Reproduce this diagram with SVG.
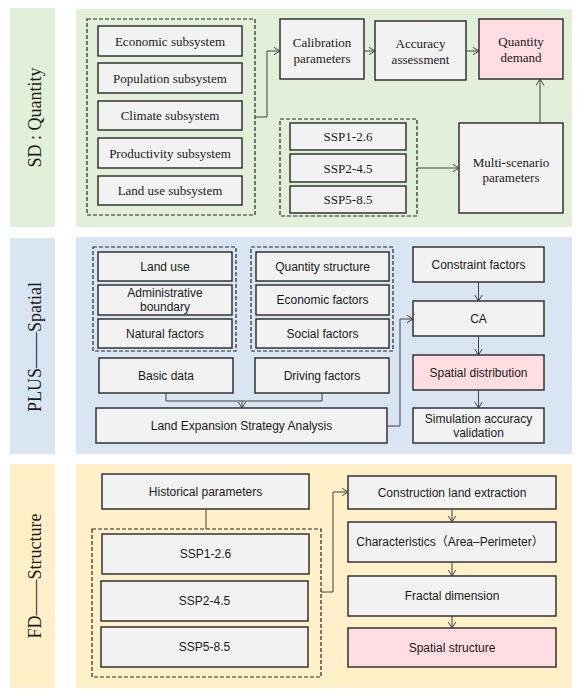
<svg xmlns="http://www.w3.org/2000/svg" width="582" height="694" viewBox="0 0 582 694">
<defs>
<marker id="arr" markerUnits="userSpaceOnUse" markerWidth="8" markerHeight="10" refX="6.5" refY="4" orient="auto">
<path d="M0,0 L6.5,4 L0,8" fill="none" stroke="#404040" stroke-width="1"/>
</marker>
<style>
.box{fill:#f2f2f2;stroke:#262626;stroke-width:1.4}
.pink{fill:#ffdde2;stroke:#262626;stroke-width:1.4}
.dash{fill:none;stroke:#262626;stroke-width:1.2;stroke-dasharray:4 2}
.serif{font-family:"Liberation Serif","Times New Roman",serif;font-size:13px;fill:#1a1a1a;text-anchor:middle}
.sans{font-family:"Liberation Sans",Arial,"Noto Sans CJK SC",sans-serif;font-size:12px;fill:#1a1a1a;text-anchor:middle}
.lab{font-family:"Liberation Serif","Times New Roman",serif;font-size:18px;fill:#1a1a1a;text-anchor:middle}
.con{fill:none;stroke:#404040;stroke-width:1}
</style>
</defs>
<rect width="582" height="694" fill="#ffffff"/>

<!-- Section panels -->
<g id="sec-sd">
<rect x="10" y="8" width="45" height="219" fill="#e2f0d9"/>
<rect x="76" y="9" width="496" height="218" fill="#e2f0d9"/>
<text class="lab" transform="translate(41,117.5) rotate(-90)">SD : Quantity</text>
</g>
<g id="sec-plus">
<rect x="10" y="238" width="45" height="216" fill="#dae5f4"/>
<rect x="76" y="237" width="496" height="217" fill="#dae5f4"/>
<text class="lab" transform="translate(41,347) rotate(-90)">PLUS——Spatial</text>
</g>
<g id="sec-fd">
<rect x="10" y="464" width="45" height="224" fill="#fff0c9"/>
<rect x="76" y="464" width="496" height="224" fill="#fff0c9"/>
<text class="lab" transform="translate(41,576) rotate(-90)">FD——Structure</text>
</g>

<!-- Section 1 -->
<g id="grp-subsystems"><rect class="dash" x="87" y="19" width="168" height="196"/></g>
<g id="n-economic"><rect class="box" x="98" y="26" width="144" height="30"/><text class="serif" x="170" y="45.5">Economic subsystem</text></g>
<g id="n-population"><rect class="box" x="98" y="63" width="144" height="30"/><text class="serif" x="170" y="82.5">Population subsystem</text></g>
<g id="n-climate"><rect class="box" x="98" y="101" width="144" height="29"/><text class="serif" x="170" y="120">Climate subsystem</text></g>
<g id="n-productivity"><rect class="box" x="98" y="138" width="144" height="30"/><text class="serif" x="170" y="157.5">Productivity subsystem</text></g>
<g id="n-landuse-sub"><rect class="box" x="98" y="176" width="144" height="29"/><text class="serif" x="170" y="195">Land use subsystem</text></g>
<g id="n-calibration"><rect class="box" x="280" y="19" width="84" height="60"/><text class="serif" x="322" y="46.5">Calibration</text><text class="serif" x="322" y="62.5">parameters</text></g>
<g id="n-accuracy"><rect class="box" x="375" y="21" width="91" height="59"/><text class="serif" x="420.5" y="47.5">Accuracy</text><text class="serif" x="420.5" y="63.5">assessment</text></g>
<g id="n-quantity"><rect class="pink" x="479" y="19" width="84" height="60"/><text class="serif" x="521" y="45.5">Quantity</text><text class="serif" x="521" y="61.5">demand</text></g>
<g id="grp-ssp1"><rect class="dash" x="280" y="119" width="137" height="97"/></g>
<g id="n-ssp126a"><rect class="box" x="290" y="123" width="116" height="27"/><text class="serif" x="348" y="141">SSP1-2.6</text></g>
<g id="n-ssp245a"><rect class="box" x="290" y="154" width="116" height="28"/><text class="serif" x="348" y="172.5">SSP2-4.5</text></g>
<g id="n-ssp585a"><rect class="box" x="290" y="186" width="116" height="27"/><text class="serif" x="348" y="204">SSP5-8.5</text></g>
<g id="n-multi"><rect class="box" x="459" y="123" width="104" height="90"/><text class="serif" x="511" y="166.5">Multi-scenario</text><text class="serif" x="511" y="181.5">parameters</text></g>

<!-- Section 2 -->
<g id="grp-basic"><rect class="dash" x="93" y="247" width="143" height="104"/></g>
<g id="n-landuse"><rect class="box" x="98" y="252" width="134" height="29"/><text class="sans" x="165" y="270.5">Land use</text></g>
<g id="n-admin"><rect class="box" x="98" y="285" width="134" height="30"/><text class="sans" x="165" y="297">Administrative</text><text class="sans" x="165" y="311">boundary</text></g>
<g id="n-natural"><rect class="box" x="98" y="319" width="134" height="29"/><text class="sans" x="165" y="337.5">Natural factors</text></g>
<g id="grp-driving"><rect class="dash" x="251" y="247" width="142" height="104"/></g>
<g id="n-qstruct"><rect class="box" x="256" y="252" width="133" height="29"/><text class="sans" x="322.5" y="270.5">Quantity structure</text></g>
<g id="n-econ-f"><rect class="box" x="256" y="285" width="133" height="30"/><text class="sans" x="322.5" y="304">Economic factors</text></g>
<g id="n-social"><rect class="box" x="256" y="319" width="133" height="29"/><text class="sans" x="322.5" y="337.5">Social factors</text></g>
<g id="n-basicdata"><rect class="box" x="99" y="358" width="134" height="35"/><text class="sans" x="166" y="379.5">Basic data</text></g>
<g id="n-drivingf"><rect class="box" x="255" y="358" width="134" height="35"/><text class="sans" x="322" y="379.5">Driving factors</text></g>
<g id="n-lesa"><rect class="box" x="96" y="408" width="291" height="35"/><text class="sans" x="241.5" y="429.5">Land Expansion Strategy Analysis</text></g>
<g id="n-constraint"><rect class="box" x="413" y="247" width="131" height="35"/><text class="sans" x="478.5" y="268.5">Constraint factors</text></g>
<g id="n-ca"><rect class="box" x="413" y="301" width="131" height="35"/><text class="sans" x="478.5" y="322.5">CA</text></g>
<g id="n-spatialdist"><rect class="pink" x="413" y="355" width="131" height="35"/><text class="sans" x="478.5" y="376.5">Spatial distribution</text></g>
<g id="n-simval"><rect class="box" x="413" y="408" width="131" height="35"/><text class="sans" x="478.5" y="423">Simulation accuracy</text><text class="sans" x="478.5" y="437">validation</text></g>

<!-- Section 3 -->
<g id="n-hist"><rect class="box" x="102" y="474" width="207" height="35"/><text class="sans" x="205.5" y="495.5">Historical parameters</text></g>
<g id="grp-ssp2"><rect class="dash" x="92" y="529" width="229" height="148"/></g>
<g id="n-ssp126b"><rect class="box" x="102" y="534" width="207" height="40"/><text class="sans" x="205.5" y="558">SSP1-2.6</text></g>
<g id="n-ssp245b"><rect class="box" x="101" y="581" width="207" height="40"/><text class="sans" x="204.5" y="605">SSP2-4.5</text></g>
<g id="n-ssp585b"><rect class="box" x="101" y="627" width="207" height="40"/><text class="sans" x="204.5" y="651">SSP5-8.5</text></g>
<g id="n-construction"><rect class="box" x="348" y="476" width="208" height="33"/><text class="sans" x="452" y="496.5">Construction land extraction</text></g>
<g id="n-charac"><rect class="box" x="348" y="522" width="208" height="40"/><text class="sans" x="450" y="546">Characteristics（Area–Perimeter）</text></g>
<g id="n-fractal"><rect class="box" x="348" y="576" width="208" height="40"/><text class="sans" x="452" y="600">Fractal dimension</text></g>
<g id="n-spatialstruct"><rect class="pink" x="348" y="628" width="208" height="39"/><text class="sans" x="452" y="651.5">Spatial structure</text></g>

<!-- Connectors -->
<g id="connectors">
<path class="con" d="M255,117 H267 V51 H280" marker-end="url(#arr)"/>
<path class="con" d="M364,51 H375" marker-end="url(#arr)"/>
<path class="con" d="M466,51 H479" marker-end="url(#arr)"/>
<path class="con" d="M417,168 H459" marker-end="url(#arr)"/>
<path class="con" d="M540,123 V79" marker-end="url(#arr)"/>
<path class="con" d="M166,393 V401 H322 V393"/>
<path class="con" d="M242,401 V408" marker-end="url(#arr)"/>
<path class="con" d="M387,426 H400 V319 H413" marker-end="url(#arr)"/>
<path class="con" d="M478.5,282 V301" marker-end="url(#arr)"/>
<path class="con" d="M478.5,336 V355" marker-end="url(#arr)"/>
<path class="con" d="M478.5,390 V408" marker-end="url(#arr)"/>
<path class="con" d="M206,509 V529"/>
<path class="con" d="M321,592 H333 V492 H348" marker-end="url(#arr)"/>
<path class="con" d="M452,509 V522" marker-end="url(#arr)"/>
<path class="con" d="M452,562 V576" marker-end="url(#arr)"/>
<path class="con" d="M452,616 V628" marker-end="url(#arr)"/>
</g>
</svg>
